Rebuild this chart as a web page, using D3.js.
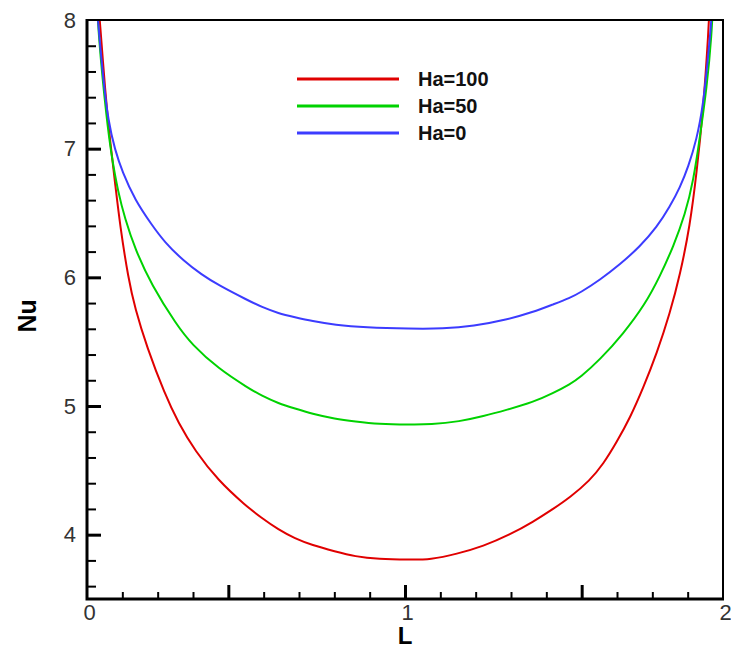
<!DOCTYPE html>
<html>
<head>
<meta charset="utf-8">
<script src="https://cdn.jsdelivr.net/npm/d3@7.9.0/dist/d3.min.js"></script>
<style>
  html, body { margin: 0; padding: 0; background: #fff; }
  svg { display: block; }
  .tick text { font-family: "Liberation Sans", Arial, sans-serif; fill: #333; }
</style>
</head>
<body>
<div id="chart"></div>
<script>
// Nu along L for each Hartmann number
const ha100 = [
  [0.030, 8.30], [0.041, 7.98], [0.057, 7.45], [0.072, 7.07], [0.088, 6.74], [0.104, 6.40],
  [0.130, 5.99], [0.151, 5.76], [0.188, 5.46], [0.245, 5.09], [0.287, 4.87], [0.340, 4.65],
  [0.413, 4.42], [0.497, 4.23], [0.549, 4.13], [0.602, 4.04], [0.654, 3.97], [0.707, 3.92],
  [0.780, 3.87], [0.843, 3.83], [0.916, 3.81], [1.016, 3.806], [1.079, 3.806], [1.163, 3.85],
  [1.246, 3.91], [1.330, 4.00], [1.403, 4.10], [1.466, 4.20], [1.519, 4.29], [1.581, 4.42],
  [1.624, 4.55], [1.666, 4.72], [1.708, 4.91], [1.749, 5.14], [1.792, 5.41], [1.833, 5.72],
  [1.865, 6.02], [1.896, 6.40], [1.917, 6.81], [1.938, 7.31], [1.954, 7.89], [1.962, 8.30]
];
const ha50 = [
  [0.028, 8.30], [0.036, 7.87], [0.062, 7.22], [0.078, 6.93], [0.098, 6.66], [0.119, 6.46],
  [0.151, 6.22], [0.203, 5.94], [0.282, 5.63], [0.329, 5.48], [0.413, 5.29], [0.507, 5.14],
  [0.549, 5.08], [0.602, 5.02], [0.654, 4.98], [0.707, 4.94], [0.780, 4.90], [0.843, 4.88],
  [0.916, 4.86], [1.016, 4.855], [1.079, 4.855], [1.173, 4.88], [1.246, 4.92], [1.320, 4.97],
  [1.403, 5.03], [1.466, 5.10], [1.519, 5.17], [1.550, 5.22], [1.613, 5.36], [1.686, 5.56],
  [1.755, 5.79], [1.802, 6.01], [1.844, 6.24], [1.881, 6.49], [1.907, 6.75], [1.928, 7.10],
  [1.949, 7.48], [1.964, 7.86], [1.972, 8.30]
];
const ha0 = [
  [0.026, 8.30], [0.034, 8.00], [0.051, 7.54], [0.067, 7.21], [0.088, 6.99], [0.111, 6.82],
  [0.151, 6.60], [0.203, 6.41], [0.245, 6.27], [0.303, 6.13], [0.361, 6.02], [0.413, 5.94],
  [0.507, 5.82], [0.549, 5.77], [0.602, 5.72], [0.654, 5.69], [0.707, 5.66], [0.780, 5.63],
  [0.874, 5.61], [1.016, 5.60], [1.120, 5.60], [1.215, 5.62], [1.320, 5.67], [1.403, 5.73],
  [1.466, 5.79], [1.519, 5.84], [1.550, 5.88], [1.613, 5.98], [1.676, 6.10], [1.739, 6.24],
  [1.792, 6.39], [1.833, 6.55], [1.865, 6.70], [1.891, 6.86], [1.917, 7.07], [1.938, 7.34],
  [1.954, 7.74], [1.964, 8.00], [1.970, 8.30]
];

const seriesNames = ['Ha=100', 'Ha=50', 'Ha=0'];
const seriesColors = ['#e00000', '#00d200', '#3c3cff'];
const seriesData = [ha100, ha50, ha0];

const yMajorTicks = [4, 5, 6, 7, 8];
const yMinorTicks = [3.6, 3.8, 4.2, 4.4, 4.6, 4.8, 5.2, 5.4, 5.6, 5.8, 6.2, 6.4, 6.6, 6.8, 7.2, 7.4, 7.6, 7.8];
const xMajorTicks = [4 / 9, 1, 14 / 9];
const xMinorTicks = [1, 2, 3, 5, 6, 7, 8, 10, 11, 12, 13, 15, 16, 17].map((k) => k / 9);
const xLabels = [0, 1, 2];

const width = 731;
const height = 650;
const margin = { top: 20, right: 8, bottom: 51, left: 87 };

const svg = d3
  .select('#chart')
  .append('svg')
  .attr('width', width)
  .attr('height', height);

const xScale = d3.scaleLinear().domain([0, 2]).range([margin.left, width - margin.right]);
const yScale = d3.scaleLinear().domain([3.5, 8]).range([height - margin.bottom, margin.top]);

const plotW = width - margin.left - margin.right;
const plotH = height - margin.top - margin.bottom;

svg.append('clipPath')
  .attr('id', 'plot-clip')
  .append('rect')
  .attr('x', margin.left)
  .attr('y', margin.top)
  .attr('width', plotW)
  .attr('height', plotH);

// curves
const line = d3
  .line()
  .x((d) => xScale(d[0]))
  .y((d) => yScale(d[1]))
  .curve(d3.curveBasis);

svg.append('g')
  .attr('clip-path', 'url(#plot-clip)')
  .selectAll('path')
  .data(seriesData)
  .join('path')
  .attr('d', line)
  .attr('fill', 'none')
  .attr('stroke', (d, i) => seriesColors[i])
  .attr('stroke-width', 2);

// y axis ticks (inward)
const yAxisG = svg.append('g').attr('transform', `translate(${margin.left},0)`);
yAxisG.append('g')
  .call(d3.axisRight(yScale).tickValues(yMinorTicks).tickSize(9).tickFormat(''))
  .call((g) => g.select('.domain').remove())
  .call((g) => g.selectAll('line').attr('stroke', '#000').attr('stroke-width', 2));
yAxisG.append('g')
  .call(d3.axisRight(yScale).tickValues(yMajorTicks.filter((v) => v < 8)).tickSize(14).tickFormat(''))
  .call((g) => g.select('.domain').remove())
  .call((g) => g.selectAll('line').attr('stroke', '#000').attr('stroke-width', 3));
yAxisG.append('g')
  .call(d3.axisLeft(yScale).tickValues(yMajorTicks).tickSize(0).tickPadding(11).tickFormat(d3.format('d')))
  .call((g) => g.select('.domain').remove())
  .call((g) => g.selectAll('text').attr('font-size', 22));

// x axis ticks (inward)
const xAxisG = svg.append('g').attr('transform', `translate(0,${height - margin.bottom})`);
xAxisG.append('g')
  .call(d3.axisTop(xScale).tickValues(xMinorTicks).tickSize(7).tickFormat(''))
  .call((g) => g.select('.domain').remove())
  .call((g) => g.selectAll('line').attr('stroke', '#000').attr('stroke-width', 2));
xAxisG.append('g')
  .call(d3.axisTop(xScale).tickValues(xMajorTicks).tickSize(14).tickFormat(''))
  .call((g) => g.select('.domain').remove())
  .call((g) => g.selectAll('line').attr('stroke', '#000').attr('stroke-width', 3));
xAxisG.append('g')
  .attr('transform', 'translate(2,0)')
  .call(d3.axisBottom(xScale).tickValues(xLabels).tickSize(0).tickPadding(5).tickFormat(d3.format('d')))
  .call((g) => g.select('.domain').remove())
  .call((g) => g.selectAll('text').attr('font-size', 22));

// frame
const x0 = margin.left;
const x1 = width - margin.right;
const y0 = margin.top;
const y1 = height - margin.bottom;
svg.append('path')
  .attr('d', `M${x0},${y0}H${x1}V${y1}`)
  .attr('fill', 'none')
  .attr('stroke', '#000')
  .attr('stroke-width', 2);
svg.append('path')
  .attr('d', `M${x0},${y0 - 1}V${y1}H${x1 + 1}`)
  .attr('fill', 'none')
  .attr('stroke', '#000')
  .attr('stroke-width', 3);

// axis titles
svg.append('text')
  .attr('x', xScale(1))
  .attr('y', 644)
  .attr('text-anchor', 'middle')
  .attr('font-family', '"Liberation Sans", Arial, sans-serif')
  .attr('font-weight', 'bold')
  .attr('font-size', 24)
  .text('L');

svg.append('text')
  .attr('transform', `translate(36,${yScale(5.7)}) rotate(-90)`)
  .attr('text-anchor', 'middle')
  .attr('font-family', '"Liberation Sans", Arial, sans-serif')
  .attr('font-weight', 'bold')
  .attr('font-size', 25)
  .text('Nu');

// legend
const legend = svg.append('g').attr('transform', 'translate(297,79)');
const items = legend
  .selectAll('g')
  .data(seriesNames)
  .join('g')
  .attr('transform', (d, i) => `translate(0,${i * 27})`);
items.append('line')
  .attr('x1', 0)
  .attr('x2', 102)
  .attr('stroke', (d, i) => seriesColors[i])
  .attr('stroke-width', 3);
items.append('text')
  .attr('x', 121)
  .attr('y', 7)
  .attr('font-family', '"Liberation Sans", Arial, sans-serif')
  .attr('font-weight', 'bold')
  .attr('font-size', 20)
  .attr('fill', '#111')
  .text((d) => d);
</script>
</body>
</html>
